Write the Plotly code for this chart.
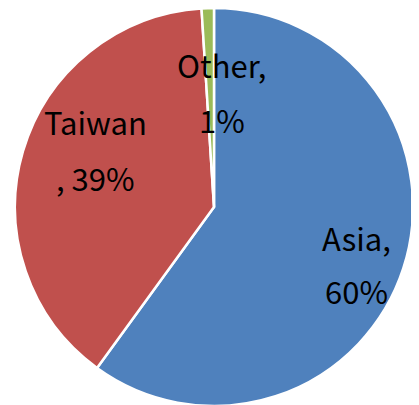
import plotly.graph_objects as go

labels = ["Asia", "Taiwan", "Other"]
values = [60, 39, 1]
colors = ["#4F81BD", "#C0504D", "#9BBB59"]
# label text lines as shown on chart
line1 = ["Asia,", "Taiwan", "Other,"]
line2 = ["60%", ", 39%", "1%"]

W, H = 419, 405
OFF = 8  # default page body margin

fig = go.Figure(go.Pie(
    labels=labels, values=values, sort=False, direction="clockwise", rotation=0,
    marker=dict(colors=colors, line=dict(color="white", width=2.5)),
    textinfo="none", hoverinfo="label+percent", showlegend=False,
    domain=dict(x=[(15 - OFF) / W, (413 - OFF) / W], y=[1 - (406 - OFF) / H, 1]),
))

# pixel centres of label lines (x, y_line1, y_line2) in screen coords
pos = {"Asia": (356, 237, 290), "Taiwan": (95, 122, 177), "Other": (222, 64, 119)}
font = dict(family="Noto Sans CJK TC, Noto Sans, sans-serif", size=31, color="black")
for lab, t1, t2 in zip(labels, line1, line2):
    x, y1, y2 = pos[lab]
    for t, y in ((t1, y1), (t2, y2)):
        fig.add_annotation(x=(x - OFF) / W, y=1 - (y - OFF) / H, xref="paper", yref="paper",
                           text=t, showarrow=False, font=font,
                           xanchor="center", yanchor="middle")

fig.update_layout(width=W, height=H, margin=dict(l=0, r=0, t=0, b=0),
                  paper_bgcolor="white", plot_bgcolor="white")
fig.write_html("out.html")
